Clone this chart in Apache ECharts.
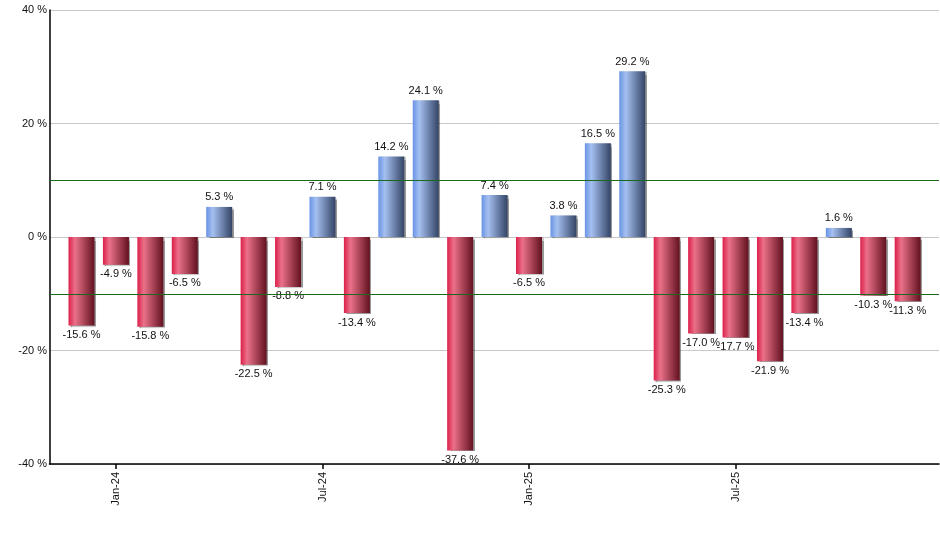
<!DOCTYPE html>
<html>
<head>
<meta charset="utf-8">
<script src="https://cdn.jsdelivr.net/npm/echarts@6/dist/echarts.min.js"></script>
<style>
  html, body { margin: 0; padding: 0; background: #fff; }
  #chart { width: 940px; height: 550px; }
</style>
</head>
<body>
<div id="chart"></div>
<script>
// monthly returns, Dec-23 .. Dec-25
const months = ['Dec-23', 'Jan-24', 'Feb-24', 'Mar-24', 'Apr-24', 'May-24', 'Jun-24', 'Jul-24', 'Aug-24', 'Sep-24', 'Oct-24', 'Nov-24', 'Dec-24',
  'Jan-25', 'Feb-25', 'Mar-25', 'Apr-25', 'May-25', 'Jun-25', 'Jul-25', 'Aug-25', 'Sep-25', 'Oct-25', 'Nov-25', 'Dec-25']
const returns = [-15.6, -4.9, -15.8, -6.5, 5.3, -22.5, -8.8, 7.1, -13.4, 14.2, 24.1, -37.6, 7.4,
  -6.5, 3.8, 16.5, 29.2, -25.3, -17.0, -17.7, -21.9, -13.4, 1.6, -10.3, -11.3]
const tickMonths = ['Jan-24', 'Jul-24', 'Jan-25', 'Jul-25']
const bandLines = [10, -10]

const font = 'Liberation Sans, Arial, sans-serif'

const redFill = () => new echarts.graphic.LinearGradient(0, 0, 1, 0, [
  { offset: 0, color: '#dc1f4a' },
  { offset: 0.25, color: '#ea7189' },
  { offset: 1, color: '#62111f' },
])
const blueFill = () => new echarts.graphic.LinearGradient(0, 0, 1, 0, [
  { offset: 0, color: '#6893e4' },
  { offset: 0.25, color: '#a5c0f0' },
  { offset: 1, color: '#334466' },
])

const chart = echarts.init(document.getElementById('chart'), null, { renderer: 'canvas' })

chart.setOption({
  animation: false,
  grid: { left: 49.5, right: 1, top: 10, bottom: 86, containLabel: false },
  xAxis: {
    type: 'value',
    min: -0.93,
    max: 24.91,
    splitLine: { show: false },
    axisLine: { show: true, onZero: false, lineStyle: { color: '#000', width: 1.5 } },
    axisTick: {
      show: true, length: 5, lineStyle: { color: '#000', width: 1.5 },
      customValues: tickMonths.map(m => months.indexOf(m)),
    },
    axisLabel: {
      show: true, rotate: 90, margin: 8, color: '#111', fontFamily: font, fontSize: 11,
      customValues: tickMonths.map(m => months.indexOf(m)),
      formatter: v => months[Math.round(v)] || '',
    },
  },
  yAxis: {
    type: 'value',
    min: -40,
    max: 40,
    interval: 20,
    axisLine: { show: true, onZero: false, lineStyle: { color: '#000', width: 1.5 } },
    axisTick: { show: false },
    splitLine: { show: true, lineStyle: { color: '#c8c8c8', width: 1 } },
    axisLabel: { margin: 2.5, color: '#111', fontFamily: font, fontSize: 11, formatter: v => v + ' %' },
  },
  series: [{
    type: 'bar',
    barWidth: 26,
    data: returns.map((v, i) => ({
      value: [i, v],
      itemStyle: { color: v < 0 ? redFill() : blueFill() },
      label: { position: v < 0 ? 'bottom' : 'top' },
    })),
    itemStyle: {
      shadowColor: 'rgba(0,0,0,0.4)', shadowBlur: 1, shadowOffsetX: 1.5, shadowOffsetY: 1,
    },
    label: {
      show: true, distance: 4, color: '#111', fontFamily: font, fontSize: 11,
      formatter: p => p.value[1].toFixed(1) + ' %',
    },
    markLine: {
      silent: true,
      symbol: 'none',
      label: { show: false },
      lineStyle: { color: '#1b6a1b', type: 'solid', width: 1.2 },
      data: bandLines.map(y => ({ yAxis: y })),
    },
  }],
})
</script>
</body>
</html>
